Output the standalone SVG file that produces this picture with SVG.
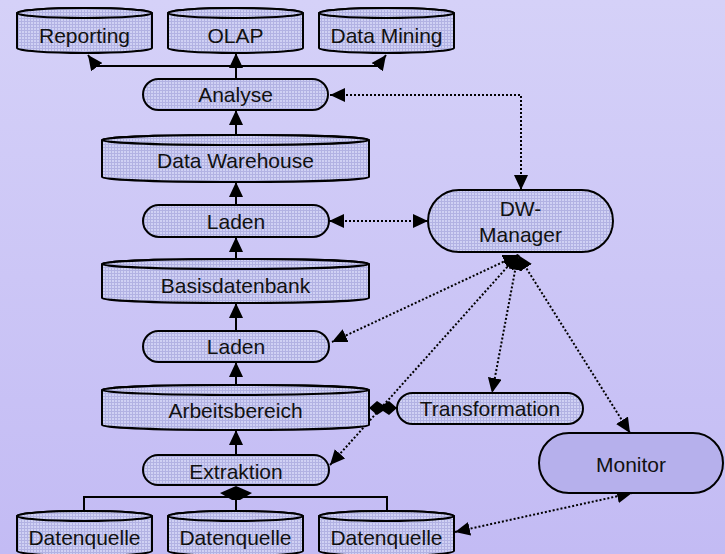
<svg xmlns="http://www.w3.org/2000/svg" width="725" height="554" viewBox="0 0 725 554">
<defs>
<linearGradient id="bg" x1="0" y1="0" x2="0" y2="1">
<stop offset="0" stop-color="#d5d1f8"/>
<stop offset="1" stop-color="#c3bbf4"/>
</linearGradient>
<pattern id="hatch" width="3" height="3" patternUnits="userSpaceOnUse">
<rect width="3" height="3" fill="#d0d1f4"/>
<path d="M0,0.5H3M0.5,0V3" stroke="#b2b2e3" stroke-width="1"/>
</pattern>
<marker id="arr" viewBox="0 0 15 14" refX="15" refY="7" markerWidth="15" markerHeight="14" markerUnits="userSpaceOnUse" orient="auto-start-reverse">
<path d="M0,0L15,7L0,14Z" fill="#000"/>
</marker>
</defs>
<style>
.n{fill:url(#hatch);stroke:#000;stroke-width:2}
.m{fill:#b6b0ec;stroke:#000;stroke-width:2}
.t{font-family:"Liberation Sans",Arial,sans-serif;font-size:21px;fill:#111;text-anchor:middle}
.s{fill:none;stroke:#000;stroke-width:2}
.d{fill:none;stroke:#000;stroke-width:2;stroke-dasharray:2,2}
</style>
<rect width="725" height="554" fill="url(#bg)"/>

<g id="connectors">
<path class="s" d="M236,79V66" />
<path class="s" d="M236,70V53" marker-end="url(#arr)"/>
<path class="s" d="M236,66H96L88,55" marker-end="url(#arr)"/>
<path class="s" d="M236,66H378L386,55" marker-end="url(#arr)"/>
<path class="s" d="M236,135V110" marker-end="url(#arr)"/>
<path class="s" d="M236,205V182" marker-end="url(#arr)"/>
<path class="s" d="M236,259V237" marker-end="url(#arr)"/>
<path class="s" d="M236,331V303" marker-end="url(#arr)"/>
<path class="s" d="M236,385V362" marker-end="url(#arr)"/>
<path class="s" d="M236,455V430" marker-end="url(#arr)"/>
<path class="s" d="M84,511V497H387V511M236,511V497"/>
<path d="M236,486L252,493L240,500H232L220,493Z" fill="#000"/>
<path class="s" d="M369,408H397"/>
<path d="M369,408L377,401L383,405L389,401L397,408L389,415L383,411L377,415Z" fill="#000"/>
<path class="d" d="M330,95H521V190" marker-start="url(#arr)" marker-end="url(#arr)"/>
<path class="d" d="M329,221H428" marker-start="url(#arr)" marker-end="url(#arr)"/>
<path class="d" d="M518,255L332,342" marker-start="url(#arr)" marker-end="url(#arr)"/>
<path class="d" d="M518,255L330,465" marker-start="url(#arr)" marker-end="url(#arr)"/>
<path class="d" d="M518,255L492,393" marker-start="url(#arr)" marker-end="url(#arr)"/>
<path class="d" d="M518,255L630,433" marker-start="url(#arr)" marker-end="url(#arr)"/>
<path class="d" d="M455,532L632,493" marker-start="url(#arr)" marker-end="url(#arr)"/>
</g>

<g id="reporting">
<path class="n" d="M17,13A67.5,5 0 0 1 152,13V48A67.5,5 0 0 1 17,48Z"/>
<ellipse class="n" cx="84.5" cy="13" rx="67.5" ry="5"/>
<text class="t" x="84.5" y="42.5">Reporting</text>
</g>
<g id="olap">
<path class="n" d="M168,13A67.5,5 0 0 1 303,13V48A67.5,5 0 0 1 168,48Z"/>
<ellipse class="n" cx="235.5" cy="13" rx="67.5" ry="5"/>
<text class="t" x="235.5" y="42.5">OLAP</text>
</g>
<g id="datamining">
<path class="n" d="M319,13A67.5,5 0 0 1 454,13V48A67.5,5 0 0 1 319,48Z"/>
<ellipse class="n" cx="386.5" cy="13" rx="67.5" ry="5"/>
<text class="t" x="386.5" y="42.5">Data Mining</text>
</g>
<g id="analyse">
<rect class="n" x="143" y="79" width="185" height="31" rx="15.5"/>
<text class="t" x="235.5" y="102">Analyse</text>
</g>
<g id="datawarehouse">
<path class="n" d="M102,140A133.5,5 0 0 1 369,140V177A133.5,5 0 0 1 102,177Z"/>
<ellipse class="n" cx="235.5" cy="140" rx="133.5" ry="5"/>
<text class="t" x="235.5" y="167.5">Data Warehouse</text>
</g>
<g id="laden1">
<rect class="n" x="143" y="205" width="186" height="32" rx="16"/>
<text class="t" x="236" y="229">Laden</text>
</g>
<g id="basisdatenbank">
<path class="n" d="M102,264A133.5,5 0 0 1 369,264V298A133.5,5 0 0 1 102,298Z"/>
<ellipse class="n" cx="235.5" cy="264" rx="133.5" ry="5"/>
<text class="t" x="235.5" y="293">Basisdatenbank</text>
</g>
<g id="laden2">
<rect class="n" x="143" y="331" width="186" height="31" rx="15.5"/>
<text class="t" x="236" y="354">Laden</text>
</g>
<g id="arbeitsbereich">
<path class="n" d="M102,390A133.5,5 0 0 1 369,390V425A133.5,5 0 0 1 102,425Z"/>
<ellipse class="n" cx="235.5" cy="390" rx="133.5" ry="5"/>
<text class="t" x="235.5" y="417.5">Arbeitsbereich</text>
</g>
<g id="extraktion">
<rect class="n" x="143" y="455" width="186" height="30" rx="15"/>
<text class="t" x="236" y="478.5">Extraktion</text>
</g>
<g id="datenquelle1">
<path class="n" d="M17,516A67.5,5 0 0 1 152,516V551A67.5,5 0 0 1 17,551Z"/>
<ellipse class="n" cx="84.5" cy="516" rx="67.5" ry="5"/>
<text class="t" x="84.5" y="545">Datenquelle</text>
</g>
<g id="datenquelle2">
<path class="n" d="M168,516A67.5,5 0 0 1 303,516V551A67.5,5 0 0 1 168,551Z"/>
<ellipse class="n" cx="235.5" cy="516" rx="67.5" ry="5"/>
<text class="t" x="235.5" y="545">Datenquelle</text>
</g>
<g id="datenquelle3">
<path class="n" d="M319,516A67.5,5 0 0 1 454,516V551A67.5,5 0 0 1 319,551Z"/>
<ellipse class="n" cx="386.5" cy="516" rx="67.5" ry="5"/>
<text class="t" x="386.5" y="545">Datenquelle</text>
</g>
<g id="dwmanager">
<rect class="n" x="428" y="190" width="185" height="62" rx="31"/>
<text class="t" x="520.5" y="216">DW-</text>
<text class="t" x="520.5" y="242">Manager</text>
</g>
<g id="transformation">
<rect class="n" x="397" y="393" width="186" height="31" rx="15.5"/>
<text class="t" x="490" y="416">Transformation</text>
</g>
<g id="monitor">
<rect class="m" x="539" y="433" width="184" height="60" rx="30"/>
<text class="t" x="631" y="472">Monitor</text>
</g>
</svg>
